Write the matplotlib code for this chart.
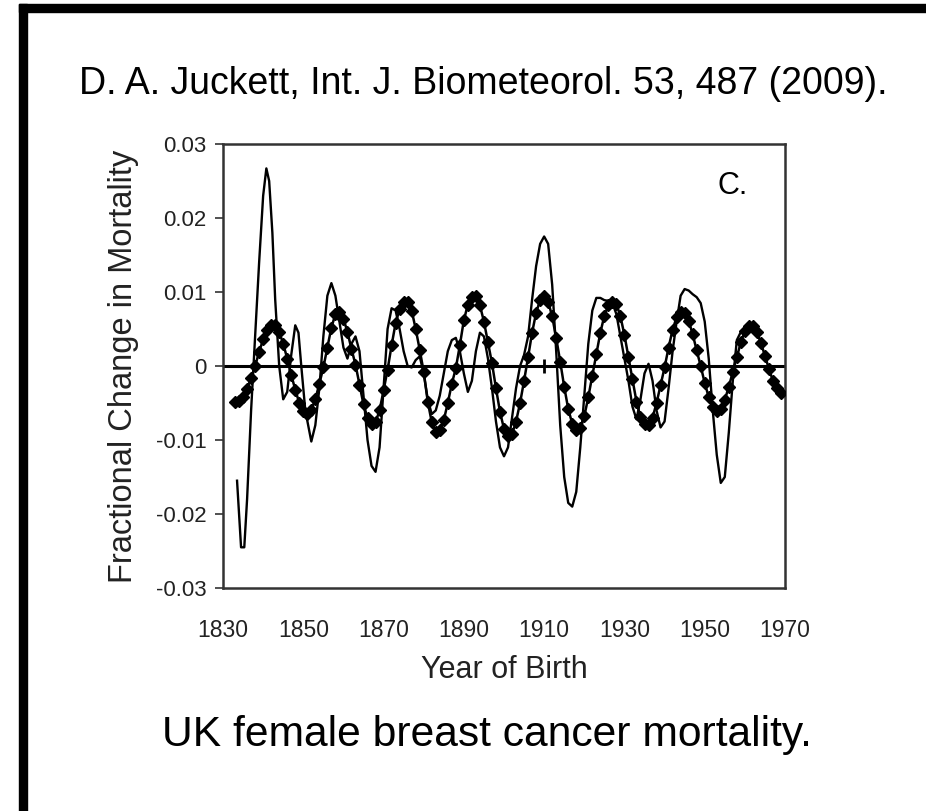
import matplotlib
matplotlib.use("Agg")
import matplotlib.pyplot as plt
from matplotlib.patches import Rectangle

plt.rcParams['font.family'] = ['Liberation Sans', 'DejaVu Sans']

# Diamond (fitted) series, yearly
fit_years = list(range(1833, 1970))
fit_values = [
    -0.0049, -0.0047, -0.0042, -0.0031, -0.0016, 0.0000, 0.0019, 0.0036, 0.0049, 0.0056,  # 1833-1842
    0.0056, 0.0046, 0.0030, 0.0010, -0.0012, -0.0032, -0.0050, -0.0061, -0.0065, -0.0059,  # 1843-1852
    -0.0045, -0.0024, -0.0002, 0.0025, 0.0052, 0.0070, 0.0073, 0.0064, 0.0046, 0.0023,     # 1853-1862
    0.0002, -0.0025, -0.0052, -0.0070, -0.0079, -0.0076, -0.0060, -0.0033, -0.0005, 0.0028,  # 1863-1872
    0.0058, 0.0077, 0.0086, 0.0087, 0.0075, 0.0050, 0.0022, -0.0008, -0.0048, -0.0076,     # 1873-1882
    -0.0089, -0.0087, -0.0073, -0.0050, -0.0024, -0.0003, 0.0028, 0.0062, 0.0083, 0.0093,  # 1883-1892
    0.0094, 0.0082, 0.0060, 0.0032, 0.0004, -0.0030, -0.0062, -0.0085, -0.0095, -0.0092,   # 1893-1902
    -0.0075, -0.0050, -0.0020, 0.0012, 0.0045, 0.0072, 0.0089, 0.0094, 0.0087, 0.0067,     # 1903-1912
    0.0038, 0.0006, -0.0028, -0.0058, -0.0078, -0.0087, -0.0084, -0.0068, -0.0042, -0.0013,  # 1913-1922
    0.0016, 0.0045, 0.0068, 0.0082, 0.0087, 0.0084, 0.0067, 0.0042, 0.0012, -0.0018,       # 1923-1932
    -0.0048, -0.0069, -0.0079, -0.0080, -0.0070, -0.0050, -0.0026, -0.0002, 0.0025, 0.0049,  # 1933-1942
    0.0066, 0.0073, 0.0071, 0.0061, 0.0043, 0.0021, 0.0000, -0.0023, -0.0042, -0.0056,     # 1943-1952
    -0.0061, -0.0058, -0.0046, -0.0028, -0.0008, 0.0012, 0.0032, 0.0047, 0.0054, 0.0054,   # 1953-1962
    0.0046, 0.0031, 0.0014, -0.0004, -0.0020, -0.0030, -0.0037,                            # 1963-1969
]

# Observed (thin line) series
obs_years = [
    1833.5, 1834.5, 1835.3, 1836, 1837, 1838, 1839, 1840, 1840.8, 1841.5, 1842.3, 1843, 1844,
    1845, 1846, 1847, 1848, 1848.8, 1849.5, 1850.5, 1852, 1853, 1854, 1855, 1856, 1857, 1858,
    1859, 1860, 1861, 1862, 1863, 1864, 1865, 1866, 1867, 1868, 1869, 1870, 1871, 1872, 1873,
    1874, 1875, 1876, 1877, 1878, 1879, 1880, 1881, 1882, 1883, 1884, 1885, 1886, 1887, 1888,
    1889, 1890, 1891, 1892, 1893, 1894, 1895, 1896, 1897, 1898, 1899, 1900, 1901, 1902, 1903,
    1904, 1905, 1906, 1907, 1908, 1909, 1910, 1911, 1912, 1913, 1914, 1915, 1916, 1917, 1918,
    1919, 1920, 1921, 1922, 1923, 1924, 1925, 1926, 1927, 1928, 1929, 1930, 1931, 1932, 1933,
    1934, 1935, 1936, 1937, 1938, 1939, 1940, 1941, 1942, 1943, 1944, 1945, 1946, 1947, 1948,
    1949, 1950, 1951, 1952, 1953, 1954, 1955, 1956, 1957, 1958, 1959,
]
obs_values = [
    -0.0155, -0.0245, -0.0245, -0.018, -0.006, 0.004, 0.014, 0.023, 0.0267, 0.025, 0.018, 0.009, 0.0,
    -0.0045, -0.0035, 0.0015, 0.0055, 0.0045, 0.0, -0.006, -0.0102, -0.008, -0.003, 0.004, 0.0095, 0.0112, 0.0095,
    0.006, 0.0025, 0.001, 0.003, 0.004, 0.002, -0.004, -0.010, -0.0135, -0.0143, -0.011, -0.003, 0.005, 0.0078, 0.0075,
    0.005, 0.002, 0.0, -0.0002, 0.0008, 0.0013, -0.001, -0.0045, -0.0065, -0.006, -0.004, -0.001, 0.002, 0.0035, 0.0038,
    0.002, -0.001, -0.0035, -0.002, 0.002, 0.0045, 0.004, 0.001, -0.003, -0.0075, -0.011, -0.0122, -0.011, -0.007, -0.003,
    0.0, 0.0015, 0.004, 0.009, 0.0135, 0.0165, 0.0175, 0.0165, 0.011, 0.002, -0.008, -0.015, -0.0185, -0.019, -0.017,
    -0.011, -0.004, 0.003, 0.0075, 0.0092, 0.0092, 0.0089, 0.0088, 0.0085, 0.007, 0.004, 0.001, -0.002, -0.0055, -0.0072,
    -0.0045, -0.001, 0.0003, -0.002, -0.006, -0.0083, -0.0075, -0.003, 0.002, 0.006, 0.0095, 0.0104, 0.0102, 0.0097, 0.0093,
    0.0085, 0.006, 0.001, -0.006, -0.012, -0.0158, -0.015, -0.009, -0.002, 0.0035, 0.0046,
]

# small vertical mark on the zero line
zero_marks = [1910]

x_ticks = [1830, 1850, 1870, 1890, 1910, 1930, 1950, 1970]
y_ticks = [0.03, 0.02, 0.01, 0, -0.01, -0.02, -0.03]
y_tick_labels = ["0.03", "0.02", "0.01", "0", "-0.01", "-0.02", "-0.03"]

fig = plt.figure(figsize=(9.26, 8.11), dpi=100)
fig.patch.set_facecolor('white')

W, H = 926, 811
# frame bars
fig.patches.append(Rectangle((19 / W, (H - 12) / H), (W - 19) / W, 8 / H,
                             transform=fig.transFigure, color='black', zorder=0))
fig.patches.append(Rectangle((19 / W, 0), 8 / W, (H - 4) / H,
                             transform=fig.transFigure, color='black', zorder=0))

ax = fig.add_axes([223 / W, (H - 588) / H, 562 / W, 444 / H])
ax.plot(obs_years, obs_values, color='black', lw=1.7, zorder=3)
ax.plot(fit_years, fit_values, color='black', lw=1.8, marker='D', markersize=6.5, zorder=4)
ax.axhline(0, color='black', lw=2.2, zorder=2)
ax.vlines(zero_marks, -0.001, 0.001, color='black', lw=2, zorder=2)

ax.set_xlim(1830, 1970)
ax.set_ylim(-0.03, 0.03)
ax.set_xticks(x_ticks)
ax.set_xticklabels([str(v) for v in x_ticks], fontsize=16.5, color='#222222')
ax.set_yticks(y_ticks)
ax.set_yticklabels(y_tick_labels, fontsize=16, color='#222222')
ax.tick_params(axis='x', length=0, pad=22)
ax.tick_params(axis='y', length=6, width=1.2, color='#333333', pad=6)
for s in ax.spines.values():
    s.set_linewidth(1.8)
    s.set_color('#333333')

ax.set_xlabel('Year of Birth', fontsize=22, color='#222222', labelpad=10)
ax.set_ylabel('Fractional Change in Mortality', fontsize=23.5, color='#222222', labelpad=12)
ax.text(0.907, 0.905, 'C.', transform=ax.transAxes, fontsize=22, ha='center', va='center')

fig.text(483 / W, 1 - 84 / H, 'D. A. Juckett, Int. J. Biometeorol. 53, 487 (2009).',
         fontsize=27, ha='center', va='center')
fig.text(487 / W, 1 - 735 / H, 'UK female breast cancer mortality.',
         fontsize=30.7, ha='center', va='center')

fig.savefig('out.png', dpi=100)
